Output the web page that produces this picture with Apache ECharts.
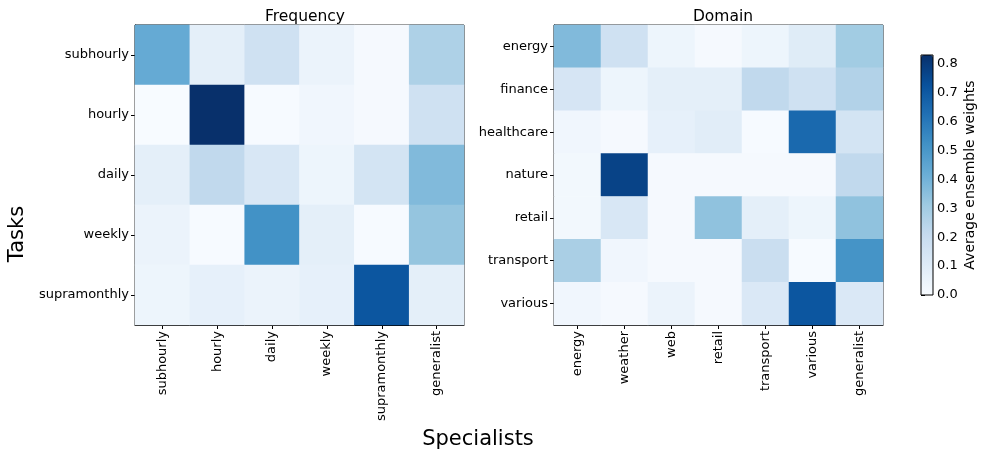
<!DOCTYPE html>
<html><head><meta charset="utf-8">
<script src="https://cdn.jsdelivr.net/npm/echarts@6/dist/echarts.min.js"></script>
<style>html,body{margin:0;padding:0;background:#fff}#c{width:986px;height:461px}</style>
</head><body><div id="c"></div>
<script>
const freqSpecialists = ['subhourly','hourly','daily','weekly','supramonthly','generalist'];
const freqTasks = ['subhourly','hourly','daily','weekly','supramonthly'];
const freqValues = [
  [0.43, 0.08, 0.17, 0.05, 0.01, 0.27],
  [0.00, 0.83, 0.005, 0.03, 0.01, 0.17],
  [0.08, 0.22, 0.13, 0.04, 0.15, 0.37],
  [0.05, 0.005, 0.52, 0.08, 0.005, 0.33],
  [0.04, 0.07, 0.05, 0.07, 0.71, 0.08]
];
const domSpecialists = ['energy','weather','web','retail','transport','various','generalist'];
const domTasks = ['energy','finance','healthcare','nature','retail','transport','various'];
const domValues = [
  [0.37, 0.17, 0.04, 0.01, 0.04, 0.10, 0.30],
  [0.14, 0.04, 0.08, 0.08, 0.22, 0.17, 0.26],
  [0.03, 0.01, 0.07, 0.09, 0.005, 0.65, 0.15],
  [0.02, 0.77, 0.01, 0.01, 0.01, 0.01, 0.22],
  [0.02, 0.13, 0.01, 0.34, 0.08, 0.04, 0.34],
  [0.28, 0.03, 0.01, 0.01, 0.19, 0.005, 0.51],
  [0.03, 0.01, 0.05, 0.01, 0.12, 0.71, 0.12]
];
const colorTicks = [0,0.1,0.2,0.3,0.4,0.5,0.6,0.7,0.8];
const vMax = 0.83;
const blues = ['#f7fbff','#deebf7','#c6dbef','#9ecae1','#6baed6','#4292c6','#2171b5','#08519c','#08306b'];

function toCells(m){const d=[];m.forEach((row,y)=>row.forEach((v,x)=>d.push([x,y,v])));return d;}
const font = 'DejaVu Sans';
const lab = {color:'#000', fontSize:13, fontFamily:font};
function xAx(i,cats){return {type:'category',gridIndex:i,data:cats,position:'bottom',
  axisLine:{show:true,lineStyle:{color:'#000'}},axisTick:{show:true,alignWithLabel:true,length:4,lineStyle:{color:'#000'}},
  axisLabel:Object.assign({rotate:90,margin:6,interval:0},lab),splitLine:{show:false}};}
function yAx(i,cats){return {type:'category',gridIndex:i,data:cats,inverse:true,
  axisLine:{show:true,lineStyle:{color:'#000'}},axisTick:{show:true,alignWithLabel:true,length:4,lineStyle:{color:'#000'}},
  axisLabel:Object.assign({margin:6,interval:0},lab),splitLine:{show:false}};}

const chart = echarts.init(document.getElementById('c'),null,{renderer:'canvas'});
chart.setOption({
  backgroundColor:'#fff',
  animation:false,
  title:[
    {text:'Frequency',left:300,top:4,textAlign:'center',textStyle:{fontFamily:font,fontSize:15.5,fontWeight:'normal',color:'#000'}},
    {text:'Domain',left:718,top:4,textAlign:'center',textStyle:{fontFamily:font,fontSize:15.5,fontWeight:'normal',color:'#000'}}
  ],
  grid:[
    {left:135,top:25,width:329,height:300,show:true,borderColor:'#000',borderWidth:1,containLabel:false},
    {left:554,top:25,width:329,height:300,show:true,borderColor:'#000',borderWidth:1,containLabel:false},
    {left:921,top:55,width:12,height:240,show:true,borderColor:'#000',borderWidth:1,backgroundColor:'transparent',z:10}
  ],
  xAxis:[xAx(0,freqSpecialists),xAx(1,domSpecialists),
    {type:'value',gridIndex:2,show:false,min:0,max:1}],
  yAxis:[yAx(0,freqTasks),yAx(1,domTasks),
    {type:'value',gridIndex:2,min:0,max:vMax,interval:0.1,position:'right',
     axisLine:{show:false},axisTick:{show:true,length:4,lineStyle:{color:'#000'}},
     axisLabel:Object.assign({margin:4,formatter:v=>colorTicks.indexOf(Math.round(v*10)/10)>=0?v.toFixed(1):''},lab),
     splitLine:{show:false}}],
  visualMap:{type:'continuous',min:0,max:vMax,seriesIndex:[0,1],calculable:false,
    inRange:{color:blues},orient:'vertical',left:921,top:55,itemWidth:12,itemHeight:240,
    text:null,showLabel:false,hoverLink:false,padding:0},
  graphic:[
    {type:'text',x:18,y:234,rotation:Math.PI/2,style:{text:'Tasks',fontFamily:font,fontSize:21,fill:'#000',textAlign:'center',textVerticalAlign:'middle'}},
    {type:'text',x:478,y:440,style:{text:'Specialists',fontFamily:font,fontSize:21,fill:'#000',textAlign:'center',textVerticalAlign:'middle'}},
    {type:'text',x:970,y:175,rotation:Math.PI/2,style:{text:'Average ensemble weights',fontFamily:font,fontSize:14,fill:'#000',textAlign:'center',textVerticalAlign:'middle'}}
  ],
  series:[
    {type:'heatmap',xAxisIndex:0,yAxisIndex:0,data:toCells(freqValues),itemStyle:{borderWidth:0},emphasis:{disabled:true}},
    {type:'heatmap',xAxisIndex:1,yAxisIndex:1,data:toCells(domValues),itemStyle:{borderWidth:0},emphasis:{disabled:true}},
    {type:'scatter',xAxisIndex:2,yAxisIndex:2,data:[],silent:true}
  ]
});
</script></body></html>
